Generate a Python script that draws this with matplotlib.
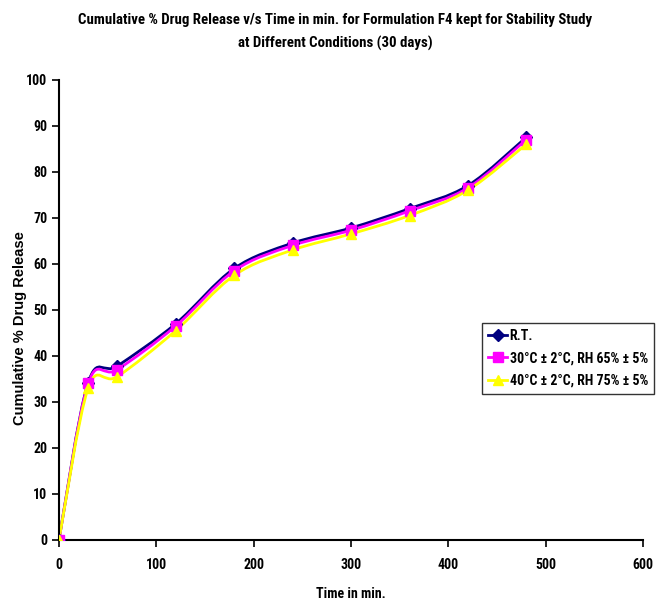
import matplotlib
matplotlib.use('Agg')
import matplotlib.pyplot as plt
from matplotlib.path import Path
from matplotlib.patches import PathPatch
import numpy as np

plt.rcParams['font.family'] = ['Roboto Condensed', 'DejaVu Sans']
plt.rcParams['font.weight'] = 'bold'

time_min = [0, 30, 60, 120, 180, 240, 300, 360, 420, 480]
release_rt = [0, 34.2, 37.8, 47.0, 59.0, 64.5, 67.8, 72.0, 77.0, 87.5]
release_30c = [0, 34.0, 37.0, 46.5, 58.5, 64.0, 67.3, 71.5, 76.5, 87.0]
release_40c = [0, 33.0, 35.5, 45.5, 57.5, 63.0, 66.5, 70.5, 76.0, 86.0]

series = [
    ('R.T.', release_rt, '#000080', 'D'),
    ('30°C ± 2°C, RH 65% ± 5%', release_30c, '#FF00FF', 's'),
    ('40°C ± 2°C, RH 75% ± 5%', release_40c, '#FFFF00', '^'),
]


def smooth_path(xs, ys):
    """Excel-like smoothed line as cubic bezier segments."""
    pts = np.column_stack([xs, ys]).astype(float)
    n = len(pts)
    verts = [pts[0]]
    codes = [Path.MOVETO]
    for i in range(n - 1):
        p0 = pts[max(i - 1, 0)]
        p1 = pts[i]
        p2 = pts[i + 1]
        p3 = pts[min(i + 2, n - 1)]
        c1 = p1 + (p2 - p0) / 6.0
        c2 = p2 - (p3 - p1) / 6.0
        verts += [c1, c2, p2]
        codes += [Path.CURVE4] * 3
    return Path(verts, codes)


fig = plt.figure(figsize=(6.7, 6.04), dpi=100)
ax = fig.add_axes([0.088, 0.106, 0.872, 0.762])

for label, vals, color, marker in series:
    ms = 6 if marker == 'D' else 7
    ax.add_patch(PathPatch(smooth_path(time_min, vals), facecolor='none',
                           edgecolor=color, lw=2, zorder=2))
    ax.plot(time_min, vals, linestyle='none', marker=marker, color=color,
            markersize=ms, zorder=3)
    ax.plot([], [], color=color, lw=2, marker=marker, markersize=ms, label=label)

ax.set_xlim(0, 600)
ax.set_ylim(0, 100)
ax.set_xticks(range(0, 601, 100))
ax.set_yticks(range(0, 101, 10))
ax.spines['top'].set_visible(False)
ax.spines['right'].set_visible(False)
for s in ('left', 'bottom'):
    ax.spines[s].set_linewidth(1.5)
ax.tick_params(direction='out', length=5, width=1.2, labelsize=10)
ax.tick_params(axis='x', pad=8)
for lab in ax.get_xticklabels() + ax.get_yticklabels():
    lab.set_fontweight('bold')

ax.set_xlabel('Time in min.', fontsize=10, fontweight='bold')
ax.xaxis.set_label_coords(0.5, -0.103)
ax.set_ylabel('Cumulative % Drug Release', fontsize=10.5, fontweight='bold',
              family=['Liberation Sans', 'DejaVu Sans'])
ax.yaxis.set_label_coords(-0.055, 0.46)

fig.text(0.5, 1 - 20 / 604, 'Cumulative % Drug Release v/s Time in min. for Formulation F4 kept for Stability Study',
         ha='center', va='center', fontsize=10.7, fontweight='bold')
fig.text(0.5, 1 - 43 / 604, 'at Different Conditions (30 days)',
         ha='center', va='center', fontsize=10.7, fontweight='bold')

leg = ax.legend(loc='upper left', bbox_to_anchor=(0.724, 0.472), frameon=True,
                fancybox=False, edgecolor='black', fontsize=10, handlelength=1.35,
                handletextpad=0.2, borderpad=0.45, borderaxespad=0,
                labelspacing=0.6)
leg.get_frame().set_linewidth(1.0)
for t in leg.get_texts():
    t.set_fontweight('bold')

fig.savefig('out.png', dpi=100)
